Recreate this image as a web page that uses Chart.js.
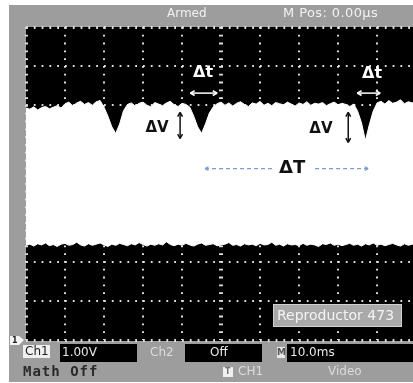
<!DOCTYPE html>
<html><head><meta charset="utf-8">
<script src="https://cdn.jsdelivr.net/npm/chart.js@4"></script>
<style>html,body{margin:0;padding:0;background:#fff;overflow:hidden}canvas{display:block}</style>
</head><body>
<canvas id="c" width="413" height="383"></canvas>
<script>
// time axis in ms (10.0 ms/div), voltage in V (1.00 V/div)
const timeMs = [0,1,2,3,4,5,6,7,8,9,10,11,12,13,14,15,16,17,18,19,20,21,22,23,24,25,26,27,28,29,30,31,32,33,34,35,36,37,38,39,40,41,42,43,44,45,46,47,48,49,50,51,52,53,54,55,56,57,58,59,60,61,62,63,64,65,66,67,68,69,70,71,72,73,74,75,76,77,78,79,80,81,82,83,84,85,86,87,88,89,90,91,92,93,94,95,96,97,98,99,100];
const upperV = [1.93,1.90,1.96,1.88,1.94,1.97,1.91,1.95,1.99,1.93,
 2.04,2.08,1.98,2.06,2.10,2.02,2.07,2.00,2.09,2.12,
 1.95,1.72,1.45,1.28,1.52,1.86,
 2.02,2.06,1.98,2.05,2.08,2.00,1.96,2.07,2.03,1.99,2.06,2.10,2.01,1.97,2.05,2.02,
 1.95,1.72,1.45,1.28,1.52,1.80,1.96,
 2.04,2.08,2.00,2.06,1.98,2.05,2.09,2.02,1.97,2.06,2.03,2.10,2.00,2.05,1.99,2.07,2.04,2.01,2.08,2.03,1.98,2.06,2.02,2.09,2.00,2.05,2.03,2.07,1.99,2.04,2.08,2.01,2.05,2.02,1.97,2.03,
 1.85,1.55,1.10,1.50,1.85,
 2.06,2.10,2.03,2.12,2.05,2.08,2.14,2.04,2.09,2.06,2.11];
const lowerV = [-1.58,-1.55,-1.60,-1.54,-1.57,-1.52,-1.59,-1.56,-1.61,-1.55,
 -1.53,-1.58,-1.56,-1.50,-1.57,-1.60,-1.54,-1.58,-1.55,-1.52,
 -1.57,-1.61,-1.55,-1.58,-1.53,-1.56,-1.59,-1.54,-1.57,-1.51,
 -1.56,-1.60,-1.55,-1.58,-1.54,-1.57,-1.49,-1.56,-1.59,-1.55,
 -1.58,-1.53,-1.57,-1.60,-1.55,-1.52,-1.58,-1.56,-1.54,-1.59,
 -1.57,-1.55,-1.51,-1.58,-1.56,-1.60,-1.54,-1.57,-1.55,-1.59,
 -1.53,-1.57,-1.56,-1.50,-1.58,-1.55,-1.60,-1.54,-1.57,-1.56,
 -1.59,-1.53,-1.58,-1.55,-1.57,-1.61,-1.54,-1.56,-1.52,-1.58,
 -1.55,-1.59,-1.56,-1.53,-1.58,-1.55,-1.60,-1.54,-1.57,-1.52,
 -1.58,-1.55,-1.59,-1.56,-1.53,-1.57,-1.60,-1.54,-1.58,-1.55,
 -1.57];
const xTicks = [0,10,20,30,40,50,60,70,80,90];
const yTicks = [-4,-3,-2,-1,0,1,2,3,4];

const toPts = vals => timeMs.map((t,i)=>({x:t,y:vals[i]}));

function arrowHead(ctx,x,y,dx,dy,s){
  const a=Math.atan2(dy,dx);
  ctx.beginPath();
  ctx.moveTo(x,y);
  ctx.lineTo(x-s*Math.cos(a-0.5),y-s*Math.sin(a-0.5));
  ctx.moveTo(x,y);
  ctx.lineTo(x-s*Math.cos(a+0.5),y-s*Math.sin(a+0.5));
  ctx.stroke();
}
function dblArrow(ctx,x1,y1,x2,y2,color,w){
  ctx.save();ctx.strokeStyle=color;ctx.lineWidth=w;ctx.setLineDash([]);
  ctx.beginPath();ctx.moveTo(x1,y1);ctx.lineTo(x2,y2);ctx.stroke();
  arrowHead(ctx,x2,y2,x2-x1,y2-y1,5);
  arrowHead(ctx,x1,y1,x1-x2,y1-y2,5);
  ctx.restore();
}

const scopePlugin = {
  id:'scope',
  beforeDraw(chart){
    const {ctx, chartArea:a} = chart;
    ctx.save();
    ctx.fillStyle='#fff'; ctx.fillRect(0,0,413,383);
    ctx.fillStyle='#9d9d9d'; ctx.fillRect(9,5,404,377);
    ctx.fillStyle='#000'; ctx.fillRect(a.left,a.top,a.right-a.left,a.bottom-a.top+1);
    ctx.restore();
  },
  afterDatasetsDraw(chart){
    const {ctx} = chart; const X=v=>chart.scales.x.getPixelForValue(v); const Y=v=>chart.scales.y.getPixelForValue(v);
    ctx.save();
    ctx.textAlign='center'; ctx.textBaseline='middle';
    ctx.fillStyle='#fff'; ctx.font='bold 16px "DejaVu Sans"';
    ctx.fillText('Δt',X(45.4),Y(2.82));
    ctx.fillText('Δt',X(88.7),Y(2.79));
    dblArrow(ctx,X(42.1),Y(2.31),X(49.0),Y(2.31),'#fff',1.5);
    dblArrow(ctx,X(84.9),Y(2.31),X(90.8),Y(2.31),'#fff',1.5);
    ctx.fillStyle='#111'; ctx.font='bold 15px "DejaVu Sans"';
    ctx.fillText('ΔV',X(33.6),Y(1.41));
    ctx.fillText('ΔV',X(75.6),Y(1.38));
    dblArrow(ctx,X(39.5),Y(1.82),X(39.5),Y(1.15),'#111',1.5);
    dblArrow(ctx,X(82.6),Y(1.82),X(82.6),Y(1.05),'#111',1.5);
    ctx.font='bold 18px "DejaVu Sans"';
    ctx.fillText('ΔT',X(68.2),Y(0.38));
    ctx.strokeStyle='#7a9bd0'; ctx.lineWidth=1.2; ctx.setLineDash([4,3]);
    ctx.beginPath(); ctx.moveTo(X(45.9),Y(0.38)); ctx.lineTo(X(63.3),Y(0.38)); ctx.stroke();
    ctx.beginPath(); ctx.moveTo(X(74.1),Y(0.38)); ctx.lineTo(X(87.7),Y(0.38)); ctx.stroke();
    ctx.setLineDash([]);
    arrowHead(ctx,X(45.9),Y(0.38),-1,0,4);
    arrowHead(ctx,X(87.7),Y(0.38),1,0,4);
    ctx.restore();
  },
  afterDraw(chart){
    const {ctx} = chart;
    ctx.save();
    ctx.textBaseline='middle'; ctx.textAlign='left';
    ctx.fillStyle='#f2f2f2'; ctx.font='12px "DejaVu Sans"';
    ctx.fillText('Armed',167,14);
    ctx.font='13px "DejaVu Sans"'; ctx.letterSpacing='0.4px';
    ctx.fillText('M Pos: 0.00µs',283,14);
    ctx.letterSpacing='0px';
    ctx.fillStyle='#a9a9a9'; ctx.fillRect(273,304,129,23);
    ctx.strokeStyle='#d0d0d0'; ctx.lineWidth=1; ctx.strokeRect(273.5,304.5,128,22);
    ctx.fillStyle='#f4f4f4'; ctx.font='14px "DejaVu Sans"';
    ctx.fillText('Reproductor 473',277,316);
    ctx.fillStyle='#f4f4f4';
    ctx.beginPath(); ctx.moveTo(10,336); ctx.lineTo(19,336); ctx.lineTo(24,340); ctx.lineTo(19,345); ctx.lineTo(10,345); ctx.closePath(); ctx.fill();
    ctx.fillStyle='#222'; ctx.font='bold 8px "DejaVu Sans"'; ctx.fillText('1',12,341);
    ctx.fillStyle='#f0f0f0'; ctx.fillRect(23,345,27,13);
    ctx.fillStyle='#222'; ctx.font='12px "DejaVu Sans"'; ctx.fillText('Ch1',25,352);
    ctx.fillStyle='#000'; ctx.fillRect(60,344,77,18); ctx.fillRect(185,344,77,18); ctx.fillRect(287,344,126,18);
    ctx.fillStyle='#e8e8e8'; ctx.font='12px "DejaVu Sans"';
    ctx.fillText('1.00V',62,353);
    ctx.fillText('Off',210,353);
    ctx.fillText('10.0ms',290,353);
    ctx.fillStyle='#dcdcdc'; ctx.fillText('Ch2',150,353);
    ctx.fillStyle='#e8e8e8'; ctx.fillRect(277,347,8,11);
    ctx.fillStyle='#555'; ctx.font='bold 9px "DejaVu Sans"'; ctx.fillText('M',277,353);
    ctx.fillStyle='#2a2a2a'; ctx.font='bold 14px "DejaVu Sans Mono"'; ctx.letterSpacing='1px';
    ctx.fillText('Math Off',23,372);
    ctx.letterSpacing='0px';
    ctx.fillStyle='#f0f0f0'; ctx.fillRect(223,367,10,10);
    ctx.fillStyle='#777'; ctx.font='bold 8px "DejaVu Sans"'; ctx.fillText('T',225,372);
    ctx.fillStyle='#dcdcdc'; ctx.font='12px "DejaVu Sans"';
    ctx.fillText('CH1',238,372);
    ctx.fillText('Video',328,372);
    ctx.restore();
  }
};

new Chart(document.getElementById('c'), {
  type:'line',
  data:{datasets:[
    {label:'lower edge', data:toPts(lowerV), borderColor:'#fff', borderWidth:1, pointRadius:0, fill:false, tension:0},
    {label:'upper edge', data:toPts(upperV), borderColor:'#fff', borderWidth:1, pointRadius:0, fill:'-1', backgroundColor:'#fff', tension:0}
  ]},
  options:{
    responsive:false, animation:false, devicePixelRatio:1,
    layout:{padding:{left:26,top:27,right:0,bottom:43}},
    plugins:{legend:{display:false}, tooltip:{enabled:false}},
    scales:{
      x:{type:'linear', min:0, max:99.2,
        afterBuildTicks:s=>{s.ticks=xTicks.map(v=>({value:v}));},
        ticks:{display:false},
        grid:{color:'#dedede', drawTicks:false, lineWidth:c=>c.tick&&c.tick.value===50?4:(c.tick&&c.tick.value===0?3:2)},
        border:{display:false, dash:[1.8,6]}},
      y:{type:'linear', min:-4, max:4,
        afterBuildTicks:s=>{s.ticks=yTicks.map(v=>({value:v}));},
        ticks:{display:false},
        grid:{color:'#dedede', drawTicks:false, lineWidth:c=>c.tick&&Math.abs(c.tick.value)===4?3:2},
        border:{display:false, dash:[1.8,6]}}
    }
  },
  plugins:[scopePlugin]
});
</script>
</body></html>
